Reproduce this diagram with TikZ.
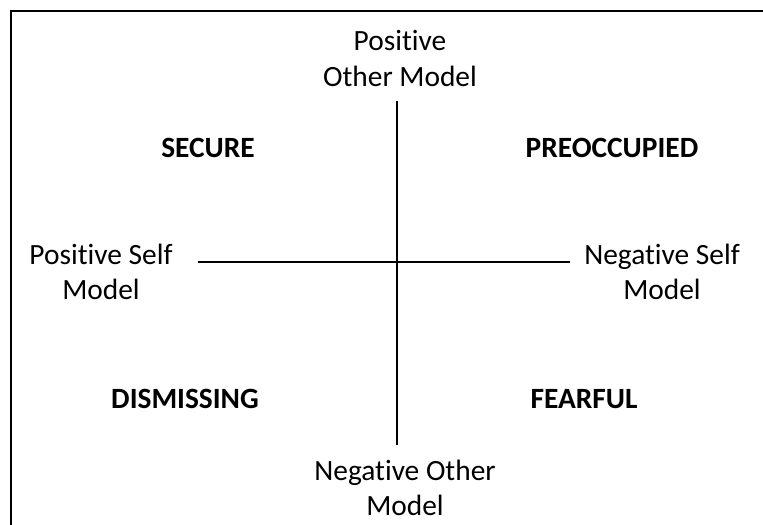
\documentclass[tikz,border=0pt]{standalone}
\usepackage{fontspec}
\setmainfont{Carlito}[Ligatures=CommonOff]
\usepackage{tikz}

\begin{document}
\begin{tikzpicture}[x=0.5pt, y=-0.5pt,
  txt/.style={inner sep=0pt, align=center, font=\fontsize{14.7pt}{17.5pt}\selectfont},
  quad/.style={inner sep=0pt, font=\fontsize{14.7pt}{17.5pt}\selectfont\bfseries}]

\useasboundingbox (0,0) rectangle (763,524);
\draw[line width=1pt] (11,530) -- (11,11) -- (770,11);

\node[txt, anchor=base](posother) at (400,86) {Positive\\Other Model};
\node[txt, anchor=base](negother) at (405,515) {Negative Other\\Model};
\node[txt, anchor=base](posself) at (101,299) {Positive Self\\Model};
\node[txt, anchor=base](negself) at (662,299) {Negative Self\\Model};

\node[quad, anchor=base](secure) at (208,157) {SECURE};
\node[quad, anchor=base](preocc) at (612,157) {PREOCCUPIED};
\node[quad, anchor=base](dismiss) at (185,408) {DISMISSING};
\node[quad, anchor=base](fearful) at (584,408) {FEARFUL};

\coordinate (top) at (397,101);
\coordinate (bottom) at (397,445);
\coordinate (left) at (198,262);
\coordinate (right) at (570,262);

\path[-, line width=0.6pt] (top) edge (bottom);
\path[-, line width=0.6pt] (left) edge (right);
\end{tikzpicture}
\end{document}
